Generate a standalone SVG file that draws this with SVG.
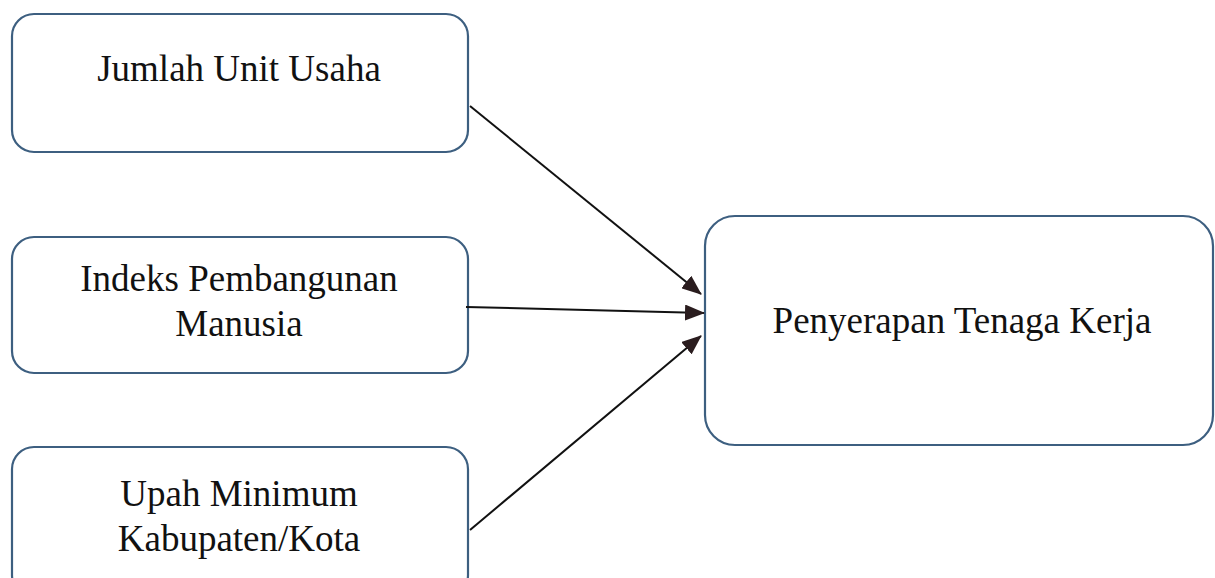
<svg xmlns="http://www.w3.org/2000/svg" width="1215" height="578" viewBox="0 0 1215 578">
<style>
.box{fill:#fff;stroke:#3d5f80;stroke-width:2.2}
.lbl{font-family:"Liberation Serif","Times New Roman",serif;font-size:37px;fill:#111;text-anchor:middle}
.con{stroke:#111;stroke-width:2;fill:none;marker-end:url(#ah)}
</style>
<defs>
<marker id="ah" viewBox="0 0 20 16" refX="19" refY="8" markerWidth="20" markerHeight="16" markerUnits="userSpaceOnUse" orient="auto">
<path d="M0,0 L20,8 L0,16 Z" fill="#2a1c1e"/>
</marker>
</defs>
<rect width="1215" height="578" fill="#fff"/>
<g id="n1"><rect class="box" x="12" y="14" width="456" height="138" rx="22"/><text class="lbl" x="239" y="81">Jumlah Unit Usaha</text></g>
<g id="n2"><rect class="box" x="12" y="237" width="456" height="136" rx="22"/><text class="lbl" x="239" y="291">Indeks Pembangunan</text><text class="lbl" x="239" y="336">Manusia</text></g>
<g id="n3"><rect class="box" x="12" y="447" width="456" height="150" rx="22"/><text class="lbl" x="239" y="506">Upah Minimum</text><text class="lbl" x="239" y="551">Kabupaten/Kota</text></g>
<g id="n4"><rect class="box" x="705" y="216" width="508" height="229" rx="30"/><text class="lbl" x="962" y="333">Penyerapan Tenaga Kerja</text></g>
<g id="connectors">
<line class="con" x1="470" y1="106" x2="701" y2="294"/>
<line class="con" x1="466" y1="307" x2="704" y2="313"/>
<line class="con" x1="470" y1="530" x2="701" y2="336"/>
</g>
</svg>
